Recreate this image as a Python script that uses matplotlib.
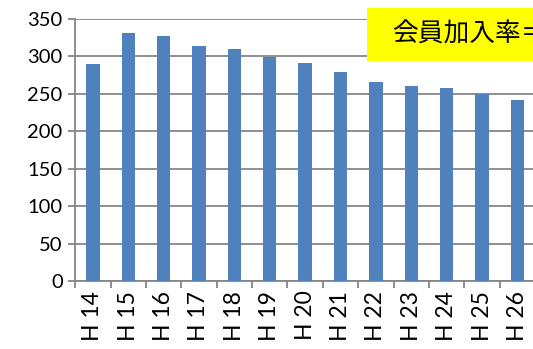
import matplotlib.pyplot as plt
from matplotlib.patches import Rectangle

# data
years = ["H 14", "H 15", "H 16", "H 17", "H 18", "H 19", "H 20",
         "H 21", "H 22", "H 23", "H 24", "H 25", "H 26"]
members = [290, 331, 327, 314, 310, 299, 291, 279, 266, 260, 258, 250, 242]
yticks = [0, 50, 100, 150, 200, 250, 300, 350]

plt.rcParams['font.family'] = ['Lato', 'Noto Sans CJK JP', 'DejaVu Sans']

fig = plt.figure(figsize=(5.33, 3.49), dpi=100)
ax = fig.add_axes([0.141, 0.195, 0.863, 0.751])

grey = '#868686'
ax.bar(range(len(years)), members, width=0.38, color='#4f81bd', zorder=3)
ax.set_xlim(-0.5, len(years) - 0.5)
ax.set_ylim(0, 350)
ax.set_yticks(yticks)
ax.grid(axis='y', color=grey, linewidth=1.3, zorder=0)

# category labels between tick marks
ax.set_xticks([i - 0.5 for i in range(len(years) + 1)])
ax.set_xticklabels([])
ax.set_xticks(range(len(years)), minor=True)
ax.set_xticklabels(years, minor=True, rotation=90, fontsize=16.5)
ax.tick_params(axis='x', which='minor', length=0, pad=7)
ax.tick_params(axis='x', which='major', length=5, width=1.3, color=grey)
ax.tick_params(axis='y', length=5, width=1.3, color=grey, labelsize=14.5, pad=4)

for s in ['top', 'right']:
    ax.spines[s].set_visible(False)
for s in ['left', 'bottom']:
    ax.spines[s].set_color(grey)
    ax.spines[s].set_linewidth(1.3)

# yellow label box, cut by the right edge
fig.patches.append(Rectangle((367 / 533, 1 - 61 / 349), 0.4, 53 / 349,
                             transform=fig.transFigure, facecolor='#ffff00',
                             edgecolor='none', zorder=5))
fig.text(392 / 533, 1 - 34 / 349, "会員加入率＝", fontsize=18.5,
         va='center', ha='left', zorder=6)

fig.savefig("out.png", dpi=100)
